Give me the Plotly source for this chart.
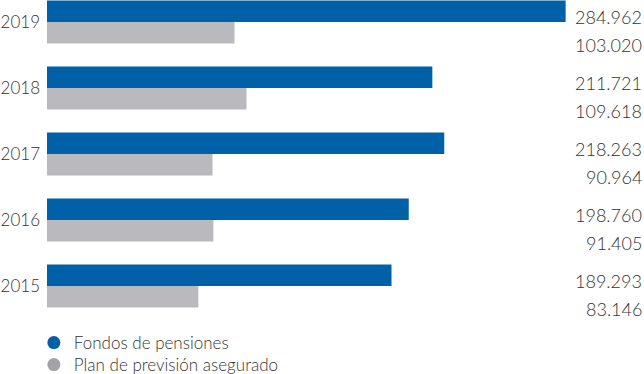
import plotly.graph_objects as go

years = ["2015", "2016", "2017", "2018", "2019"]
fondos = [189293, 198760, 218263, 211721, 284962]
plan = [83146, 91405, 90964, 109618, 103020]
series_names = ["Fondos de pensiones", "Plan de previsión asegurado"]

BLUE = "#0060a8"
GRAY = "#b9b9be"
GRAY_LEG = "#a2a2a7"
TEXT = "#333333"
FONT = "Lato Light, Lato, sans-serif"
FS = 18

def fmt(v):
    return f"{v:,}".replace(",", ".")

fig = go.Figure()
fig.add_trace(go.Bar(y=years, x=plan, orientation="h", marker=dict(color=GRAY, line=dict(width=0)),
                     showlegend=False, hoverinfo="skip"))
fig.add_trace(go.Bar(y=years, x=fondos, orientation="h", marker=dict(color=BLUE, line=dict(width=0)),
                     showlegend=False, hoverinfo="skip"))
fig.add_trace(go.Scatter(x=[None], y=[None], mode="markers", name=series_names[0], legend="legend",
                         marker=dict(symbol="circle", size=13, color=BLUE)))
fig.add_trace(go.Scatter(x=[None], y=[None], mode="markers", name=series_names[1], legend="legend2",
                         marker=dict(symbol="circle", size=13, color=GRAY_LEG)))

annotations = []
for i, (f, p) in enumerate(zip(fondos, plan)):
    annotations.append(dict(x=1, xref="paper", y=i, yref="y", text=fmt(f), showarrow=False,
                            xanchor="right", yanchor="middle", yshift=5,
                            font=dict(size=FS, color=TEXT, family=FONT)))
    annotations.append(dict(x=1, xref="paper", y=i, yref="y", text=fmt(p), showarrow=False,
                            xanchor="right", yanchor="middle", yshift=-23,
                            font=dict(size=FS, color=TEXT, family=FONT)))

W, H = 644, 374
ml, mr, mt, mb = 47, 0, 0, 54
plot_w = W - ml - mr
plot_h = H - mt - mb
scale = 1.82 / 1000  # px per unit

leg_common = dict(orientation="v", xanchor="left", yanchor="middle", x=-0.022,
                  font=dict(size=17, color=TEXT, family=FONT), bgcolor="rgba(0,0,0,0)",
                  itemwidth=30)

fig.update_layout(
    width=W, height=H,
    margin=dict(l=ml, r=mr, t=mt, b=mb, pad=0, autoexpand=False),
    paper_bgcolor="white", plot_bgcolor="white",
    barmode="group", bargap=0.35, bargroupgap=0,
    font=dict(family=FONT, size=FS, color=TEXT),
    xaxis=dict(range=[0, plot_w / scale], visible=False, showgrid=False, zeroline=False,
               automargin=False),
    yaxis=dict(type="category", categoryorder="array", categoryarray=years,
               range=[-0.515, 4.333], showgrid=False, zeroline=False, showline=False,
               automargin=False, ticks="", ticklabelstandoff=6,
               tickfont=dict(size=17, color=TEXT, family=FONT)),
    legend=dict(**leg_common, y=(plot_h - 343) / plot_h),
    legend2=dict(**leg_common, y=(plot_h - 365) / plot_h),
    annotations=annotations,
)

fig.write_html("out.html", config={"displayModeBar": False},
               post_script="document.body.style.margin='0';document.body.style.padding='0';")
